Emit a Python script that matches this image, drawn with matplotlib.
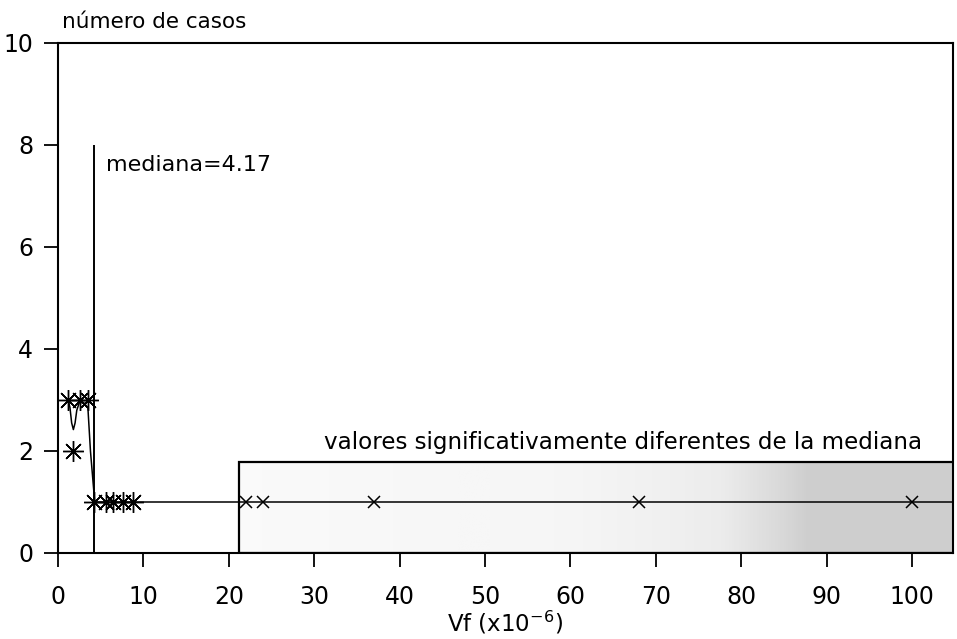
import numpy as np
import matplotlib
matplotlib.use("Agg")
import matplotlib.pyplot as plt
from matplotlib.patches import Rectangle

plt.rcParams['font.family'] = ['DejaVu Sans']
plt.rcParams['mathtext.fontset'] = 'dejavusans'

# ---- data ----
star_x = [1.2, 2.6, 3.5, 1.8, 4.2, 5.6, 6.4, 7.6, 8.8]
star_y = [3, 3, 3, 2, 1, 1, 1, 1, 1]
cross_x = [22, 24, 37, 68, 100]
cross_y = [1, 1, 1, 1, 1]
curve_x = [1.2, 1.4, 1.6, 1.8, 2.0, 2.2, 2.5, 3.0, 3.5, 3.8, 4.3, 104.8]
curve_y = [3.0, 2.85, 2.55, 2.42, 2.55, 2.8, 2.95, 2.95, 2.85, 2.0, 1.0, 1.0]
median = 4.17
median_top = 8
region_start = 21.2
region_top = 1.78
xticks = [0, 10, 20, 30, 40, 50, 60, 70, 80, 90, 100]
yticks = [0, 2, 4, 6, 8, 10]

W, H = 957, 639
fig = plt.figure(figsize=(W / 100, H / 100), dpi=100)
L, R, T, B = 58, 953, 43, 553
ax = fig.add_axes([L / W, 1 - B / H, (R - L) / W, (B - T) / H])
xmax = 104.8
ax.set_xlim(0, xmax)
ax.set_ylim(0, 10)

# shaded region (gradient texture)
gx = np.linspace(region_start, xmax, 400)
shade = np.interp(gx, [21, 60, 78, 88, 105], [0.04, 0.08, 0.15, 0.30, 0.30])
ax.imshow(shade[np.newaxis, :], cmap='Greys', vmin=0, vmax=1, aspect='auto',
          extent=[region_start, xmax, 0, region_top], zorder=1, interpolation='bilinear')
ax.add_patch(Rectangle((region_start, 0), xmax - region_start + 1, region_top,
                       fill=False, edgecolor='black', linewidth=1.6, zorder=2, clip_on=True))

ax.plot(curve_x, curve_y, color='black', linewidth=1.1, zorder=3)
ax.vlines(median, 0, median_top, color='black', linewidth=1.4, zorder=3)
ax.plot(star_x, star_y, linestyle='none', marker=(8, 2, 0), markersize=15,
        markeredgewidth=1.0, color='black', zorder=4)
ax.plot(cross_x, cross_y, linestyle='none', marker='x', markersize=8,
        markeredgewidth=1.1, color='black', zorder=4)

ax.text(5.6, 7.6, 'mediana=4.17', fontsize=16, va='center', ha='left')
ax.text(66.2, 2.17, 'valores significativamente diferentes de la mediana',
        fontsize=16.6, va='center', ha='center')
ax.text(0.005, 1.041, 'número de casos', transform=ax.transAxes,
        fontsize=15.5, va='center', ha='left')

ax.set_xticks(xticks)
ax.set_yticks(yticks)
ax.tick_params(axis='x', direction='out', length=10, width=1.3, pad=13, labelsize=17)
ax.tick_params(axis='y', direction='out', length=10, width=1.3, pad=8, labelsize=17)
fig.text(505 / W, 1 - 623 / H, 'Vf (x10$^{-6}$)', fontsize=16.5, ha='center', va='center')
for s in ax.spines.values():
    s.set_linewidth(1.5)

fig.savefig('out.png', dpi=100)
